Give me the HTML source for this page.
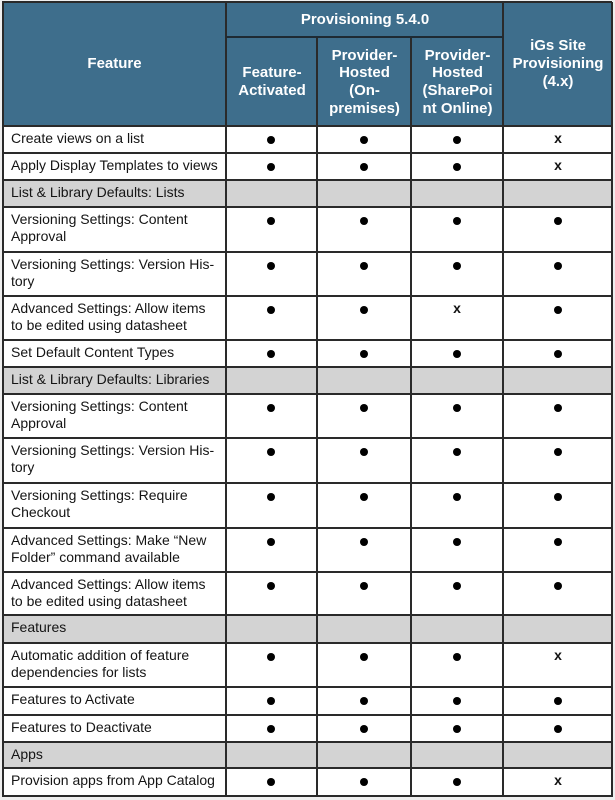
<!DOCTYPE html>
<html>
<head>
<meta charset="utf-8">
<style>
html,body{margin:0;padding:0;}
body{width:615px;height:800px;background:#efefef;position:relative;overflow:hidden;font-family:"Liberation Sans",sans-serif;}
.bg{position:absolute;}
.hl{position:absolute;left:2px;width:610px;height:2px;background:#2a2a2a;}
.vl{position:absolute;width:2px;background:#2a2a2a;}
.t{position:absolute;left:11px;font-size:14px;line-height:17px;color:#141414;white-space:nowrap;}
.d{position:absolute;width:8px;height:8px;border-radius:50%;background:#000;}
.x{position:absolute;width:20px;text-align:center;font-weight:bold;font-size:14px;line-height:17px;color:#111;}
.h{position:absolute;display:flex;align-items:center;justify-content:center;text-align:center;color:#fff;font-weight:bold;font-size:15px;line-height:17.7px;}
</style>
</head>
<body>
<!-- backgrounds -->
<div class="bg" style="left:2px;top:2px;width:610px;height:794px;background:#fff;"></div>
<div class="bg" style="left:2px;top:2px;width:610px;height:124px;background:#3e6e8c;"></div>
<div class="bg" style="left:2px;top:180px;width:610px;height:27px;background:#d3d3d3;"></div>
<div class="bg" style="left:2px;top:367px;width:610px;height:27px;background:#d3d3d3;"></div>
<div class="bg" style="left:2px;top:615px;width:610px;height:28px;background:#d3d3d3;"></div>
<div class="bg" style="left:2px;top:742px;width:610px;height:26px;background:#d3d3d3;"></div>

<!-- header text -->
<div class="h" style="left:3px;top:2px;width:223px;height:124px;">Feature</div>
<div class="h" style="left:227px;top:2px;width:276px;height:35px;">Provisioning 5.4.0</div>
<div class="h" style="left:227px;top:38px;width:90px;height:88px;">Feature-<br>Activated</div>
<div class="h" style="left:318px;top:38px;width:93px;height:88px;">Provider-<br>Hosted<br>(On-<br>premises)</div>
<div class="h" style="left:412px;top:38px;width:91px;height:88px;">Provider-<br>Hosted<br>(SharePoi<br>nt Online)</div>
<div class="h" style="left:504px;top:2px;width:108px;height:124px;">iGs Site<br>Provisioning<br>(4.x)</div>

<!-- lines -->
<div class="hl" style="top:1px;"></div>
<div class="hl" style="top:795px;"></div>
<div class="vl" style="left:2px;top:2px;height:795px;"></div>
<div class="vl" style="left:611px;top:2px;height:795px;"></div>
<div class="vl" style="left:225px;top:2px;height:795px;"></div>
<div class="vl" style="left:502px;top:2px;height:795px;"></div>
<div class="vl" style="left:316px;top:37px;height:760px;"></div>
<div class="vl" style="left:410px;top:37px;height:760px;"></div>
<div class="bg" style="left:226px;top:36px;width:277px;height:2px;background:#1e2a33;"></div>
<div class="hl" style="top:125px;"></div>
<div class="hl" style="top:152px;"></div>
<div class="hl" style="top:179px;"></div>
<div class="hl" style="top:206px;"></div>
<div class="hl" style="top:251px;"></div>
<div class="hl" style="top:295px;"></div>
<div class="hl" style="top:339px;"></div>
<div class="hl" style="top:366px;"></div>
<div class="hl" style="top:393px;"></div>
<div class="hl" style="top:437px;"></div>
<div class="hl" style="top:482px;"></div>
<div class="hl" style="top:527px;"></div>
<div class="hl" style="top:571px;"></div>
<div class="hl" style="top:614px;"></div>
<div class="hl" style="top:642px;"></div>
<div class="hl" style="top:686px;"></div>
<div class="hl" style="top:714px;"></div>
<div class="hl" style="top:741px;"></div>
<div class="hl" style="top:767px;"></div>

<!-- body text -->
<div class="t" style="top:130px;">Create views on a list</div>
<div class="t" style="top:157px;">Apply Display Templates to views</div>
<div class="t" style="top:184px;">List &amp; Library Defaults: Lists</div>
<div class="t" style="top:211px;">Versioning Settings: Content<br>Approval</div>
<div class="t" style="top:256px;">Versioning Settings: Version His-<br>tory</div>
<div class="t" style="top:300px;">Advanced Settings: Allow items<br>to be edited using datasheet</div>
<div class="t" style="top:344px;">Set Default Content Types</div>
<div class="t" style="top:371px;">List &amp; Library Defaults: Libraries</div>
<div class="t" style="top:398px;">Versioning Settings: Content<br>Approval</div>
<div class="t" style="top:442px;">Versioning Settings: Version His-<br>tory</div>
<div class="t" style="top:487px;">Versioning Settings: Require<br>Checkout</div>
<div class="t" style="top:532px;">Advanced Settings: Make “New<br>Folder” command available</div>
<div class="t" style="top:576px;">Advanced Settings: Allow items<br>to be edited using datasheet</div>
<div class="t" style="top:619px;">Features</div>
<div class="t" style="top:647px;">Automatic addition of feature<br>dependencies for lists</div>
<div class="t" style="top:691px;">Features to Activate</div>
<div class="t" style="top:719px;">Features to Deactivate</div>
<div class="t" style="top:746px;">Apps</div>
<div class="t" style="top:772px;">Provision apps from App Catalog</div>

<!-- r1 126 -->
<div class="d" style="left:267px;top:136px;"></div>
<div class="d" style="left:360px;top:136px;"></div>
<div class="d" style="left:453px;top:136px;"></div>
<div class="x" style="left:548px;top:130px;">x</div>
<!-- r2 153 -->
<div class="d" style="left:267px;top:163px;"></div>
<div class="d" style="left:360px;top:163px;"></div>
<div class="d" style="left:453px;top:163px;"></div>
<div class="x" style="left:548px;top:157px;">x</div>
<!-- r3 207 -->
<div class="d" style="left:267px;top:217px;"></div>
<div class="d" style="left:360px;top:217px;"></div>
<div class="d" style="left:453px;top:217px;"></div>
<div class="d" style="left:554px;top:217px;"></div>
<!-- r4 252 -->
<div class="d" style="left:267px;top:262px;"></div>
<div class="d" style="left:360px;top:262px;"></div>
<div class="d" style="left:453px;top:262px;"></div>
<div class="d" style="left:554px;top:262px;"></div>
<!-- r5 296 -->
<div class="d" style="left:267px;top:306px;"></div>
<div class="d" style="left:360px;top:306px;"></div>
<div class="x" style="left:447px;top:300px;">x</div>
<div class="d" style="left:554px;top:306px;"></div>
<!-- r6 340 -->
<div class="d" style="left:267px;top:350px;"></div>
<div class="d" style="left:360px;top:350px;"></div>
<div class="d" style="left:453px;top:350px;"></div>
<div class="d" style="left:554px;top:350px;"></div>
<!-- r7 394 -->
<div class="d" style="left:267px;top:404px;"></div>
<div class="d" style="left:360px;top:404px;"></div>
<div class="d" style="left:453px;top:404px;"></div>
<div class="d" style="left:554px;top:404px;"></div>
<!-- r8 438 -->
<div class="d" style="left:267px;top:448px;"></div>
<div class="d" style="left:360px;top:448px;"></div>
<div class="d" style="left:453px;top:448px;"></div>
<div class="d" style="left:554px;top:448px;"></div>
<!-- r9 483 -->
<div class="d" style="left:267px;top:493px;"></div>
<div class="d" style="left:360px;top:493px;"></div>
<div class="d" style="left:453px;top:493px;"></div>
<div class="d" style="left:554px;top:493px;"></div>
<!-- r10 528 -->
<div class="d" style="left:267px;top:538px;"></div>
<div class="d" style="left:360px;top:538px;"></div>
<div class="d" style="left:453px;top:538px;"></div>
<div class="d" style="left:554px;top:538px;"></div>
<!-- r11 572 -->
<div class="d" style="left:267px;top:582px;"></div>
<div class="d" style="left:360px;top:582px;"></div>
<div class="d" style="left:453px;top:582px;"></div>
<div class="d" style="left:554px;top:582px;"></div>
<!-- r12 643 -->
<div class="d" style="left:267px;top:653px;"></div>
<div class="d" style="left:360px;top:653px;"></div>
<div class="d" style="left:453px;top:653px;"></div>
<div class="x" style="left:548px;top:647px;">x</div>
<!-- r13 687 -->
<div class="d" style="left:267px;top:697px;"></div>
<div class="d" style="left:360px;top:697px;"></div>
<div class="d" style="left:453px;top:697px;"></div>
<div class="d" style="left:554px;top:697px;"></div>
<!-- r14 715 -->
<div class="d" style="left:267px;top:725px;"></div>
<div class="d" style="left:360px;top:725px;"></div>
<div class="d" style="left:453px;top:725px;"></div>
<div class="d" style="left:554px;top:725px;"></div>
<!-- r15 768 -->
<div class="d" style="left:267px;top:778px;"></div>
<div class="d" style="left:360px;top:778px;"></div>
<div class="d" style="left:453px;top:778px;"></div>
<div class="x" style="left:548px;top:772px;">x</div>
</body>
</html>
